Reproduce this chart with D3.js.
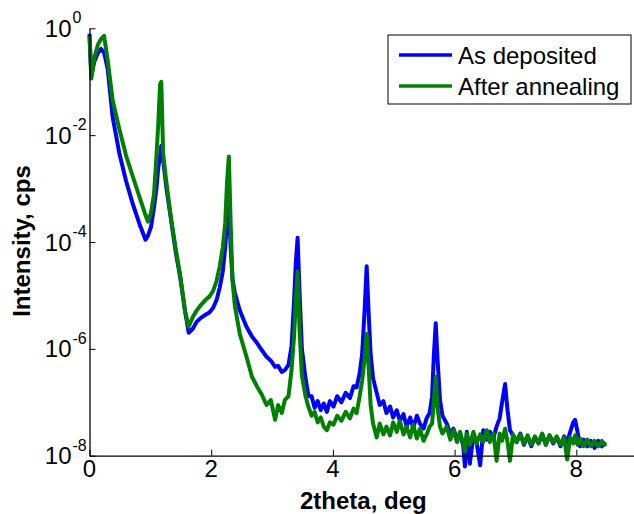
<!DOCTYPE html>
<html><head><meta charset="utf-8">
<script src="https://cdn.jsdelivr.net/npm/d3@7"></script>
<style>
html,body{margin:0;padding:0;background:#fff;}
svg{display:block;}
text{font-family:"Liberation Sans",Arial,sans-serif;fill:#000;}
</style></head>
<body><svg id="chart" width="634" height="514"></svg>
<script>
// ---- data ----
const twoTheta = [
  0, 0.03, 0.08, 0.14, 0.19, 0.24, 0.30, 0.38, 0.49, 0.60,
  0.71, 0.82, 0.92, 0.96, 1.01, 1.06, 1.10, 1.13, 1.16, 1.18,
  1.21, 1.26, 1.34, 1.42, 1.49, 1.57, 1.63, 1.70, 1.76, 1.83,
  1.90, 1.97, 2.03, 2.09, 2.14, 2.19, 2.23, 2.26, 2.29, 2.32,
  2.35, 2.39, 2.47, 2.58, 2.67, 2.75, 2.83, 2.91, 2.98, 3.05,
  3.10, 3.16, 3.21, 3.27, 3.32, 3.36, 3.39, 3.42, 3.45, 3.49,
  3.55, 3.60, 3.65, 3.70, 3.75, 3.80, 3.85, 3.90, 3.95, 4.01,
  4.07, 4.14, 4.21, 4.28, 4.34, 4.39, 4.44, 4.48, 4.52, 4.555,
  4.59, 4.62, 4.66, 4.72, 4.77, 4.83, 4.88, 4.94, 4.99, 5.05,
  5.10, 5.16, 5.21, 5.27, 5.32, 5.38, 5.43, 5.49, 5.54, 5.59,
  5.63, 5.66, 5.69, 5.72, 5.76, 5.80, 5.87, 5.93, 5.98, 6.04,
  6.09, 6.14, 6.17, 6.20, 6.25, 6.31, 6.36, 6.42, 6.47, 6.53,
  6.58, 6.64, 6.69, 6.74, 6.78, 6.83, 6.87, 6.91, 6.96, 7.02,
  7.08, 7.14, 7.20, 7.26, 7.32, 7.38, 7.44, 7.50, 7.56, 7.62,
  7.68, 7.74, 7.80, 7.85, 7.90, 7.95, 7.98, 8.02, 8.06, 8.12,
  8.18, 8.24, 8.30, 8.36, 8.42, 8.48
];
const asDeposited = [
  7.9e-1, 1.3e-1, 2.4e-1, 3.5e-1, 4.1e-1, 3.5e-1, 1.7e-1, 2.2e-2, 4.6e-3, 1.4e-3,
  5.2e-4, 2.2e-4, 1.1e-4, 1.3e-4, 1.9e-4, 4.5e-4, 1.0e-3, 2.5e-3, 4.0e-3, 6.3e-3,
  3.5e-3, 1.1e-3, 2.6e-4, 6.2e-5, 2.2e-5, 5.2e-6, 2.0e-6, 2.4e-6, 3.2e-6, 3.8e-6,
  4.3e-6, 4.8e-6, 5.8e-6, 8.3e-6, 1.4e-5, 2.8e-5, 7.9e-5, 2.5e-4, 5.0e-4, 7.9e-5,
  2.0e-5, 1.1e-5, 5.2e-6, 2.6e-6, 1.7e-6, 1.3e-6, 9.5e-7, 7.1e-7, 6.0e-7, 4.6e-7,
  4.8e-7, 3.7e-7, 4.0e-7, 5.0e-7, 1.1e-6, 7.1e-6, 4.0e-5, 1.2e-4, 1.3e-5, 1.0e-6,
  2.8e-7, 1.3e-7, 1.3e-7, 7.9e-8, 1.05e-7, 7.1e-8, 9.5e-8, 6.6e-8, 1.05e-7, 8.3e-8,
  1.3e-7, 1.0e-7, 1.5e-7, 1.2e-7, 2.0e-7, 1.9e-7, 3.5e-7, 7.9e-7, 5.0e-6, 3.5e-5,
  4.0e-6, 7.9e-7, 2.8e-7, 1.5e-7, 8.9e-8, 1.05e-7, 6.3e-8, 8.3e-8, 5.2e-8, 7.1e-8,
  4.5e-8, 6.0e-8, 3.5e-8, 5.2e-8, 3.3e-8, 5.6e-8, 4.0e-8, 3.2e-8, 5.0e-8, 6.3e-8,
  1.3e-7, 7.9e-7, 3.0e-6, 6.3e-7, 1.1e-7, 5.6e-8, 4.0e-8, 2.6e-8, 3.2e-8, 2.1e-8,
  2.4e-8, 1.6e-8, 6.3e-9, 2.8e-8, 7.1e-9, 2.5e-8, 1.8e-8, 6.6e-9, 3.0e-8, 2.0e-8,
  2.8e-8, 2.2e-8, 3.5e-8, 5.0e-8, 1.0e-7, 2.2e-7, 7.1e-8, 3.0e-8, 2.4e-8, 1.8e-8,
  2.6e-8, 1.6e-8, 2.3e-8, 1.5e-8, 2.2e-8, 1.7e-8, 2.5e-8, 1.6e-8, 2.4e-8, 1.7e-8,
  2.2e-8, 1.5e-8, 2.3e-8, 1.8e-8, 2.8e-8, 4.2e-8, 4.7e-8, 2.8e-8, 1.5e-8, 2.0e-8,
  1.5e-8, 1.9e-8, 1.4e-8, 1.9e-8, 1.5e-8, 1.8e-8
];
const afterAnnealing = [
  7.1e-1, 1.15e-1, 2.8e-1, 5.0e-1, 6.3e-1, 7.2e-1, 2.5e-1, 4.5e-2, 1.3e-2, 4.2e-3,
  1.7e-3, 7.1e-4, 3.2e-4, 2.4e-4, 3.5e-4, 7.9e-4, 4.0e-3, 1.6e-2, 8.9e-2, 1.0e-1,
  4.6e-3, 1.4e-3, 2.8e-4, 7.1e-5, 2.4e-5, 5.0e-6, 2.6e-6, 4.0e-6, 5.2e-6, 6.6e-6,
  8.1e-6, 9.5e-6, 1.2e-5, 1.9e-5, 3.5e-5, 7.9e-5, 2.2e-4, 1.3e-3, 4.0e-3, 2.2e-4,
  1.9e-5, 6.2e-6, 1.9e-6, 7.1e-7, 3.0e-7, 2.0e-7, 1.4e-7, 8.9e-8, 1.1e-7, 4.7e-8,
  8.9e-8, 6.3e-8, 1.1e-7, 1.3e-7, 4.0e-7, 1.6e-6, 7.9e-6, 2.8e-5, 2.5e-6, 3.2e-7,
  1.3e-7, 8.1e-8, 5.6e-8, 6.6e-8, 4.2e-8, 5.2e-8, 3.5e-8, 3.0e-8, 4.2e-8, 3.8e-8,
  5.6e-8, 4.5e-8, 6.6e-8, 5.0e-8, 7.6e-8, 6.3e-8, 1.3e-7, 2.5e-7, 6.3e-7, 1.9e-6,
  4.0e-7, 8.9e-8, 4.0e-8, 2.2e-8, 4.0e-8, 2.5e-8, 3.5e-8, 2.4e-8, 4.2e-8, 2.8e-8,
  4.5e-8, 2.5e-8, 3.5e-8, 2.2e-8, 3.8e-8, 2.1e-8, 3.2e-8, 1.9e-8, 2.5e-8, 3.5e-8,
  4.0e-8, 1.1e-7, 3.0e-7, 7.9e-8, 3.5e-8, 2.6e-8, 3.5e-8, 2.0e-8, 3.0e-8, 1.8e-8,
  2.8e-8, 1.7e-8, 1.2e-8, 2.6e-8, 1.6e-8, 2.8e-8, 1.7e-8, 2.5e-8, 1.8e-8, 3.0e-8,
  1.8e-8, 2.6e-8, 8.0e-9, 2.6e-8, 1.9e-8, 3.2e-8, 1.8e-8, 8.0e-9, 2.5e-8, 1.8e-8,
  2.5e-8, 1.7e-8, 2.4e-8, 1.6e-8, 2.3e-8, 1.7e-8, 2.6e-8, 1.6e-8, 2.4e-8, 1.8e-8,
  2.3e-8, 1.6e-8, 2.2e-8, 8.5e-9, 2.2e-8, 1.7e-8, 2.4e-8, 1.6e-8, 2.1e-8, 1.5e-8,
  2.0e-8, 1.5e-8, 1.9e-8, 1.5e-8, 1.9e-8, 1.5e-8
];
const seriesNames = ["As deposited", "After annealing"];
const seriesColors = ["#0000ff", "#008000"];
const xTickValues = [0, 2, 4, 6, 8];
const yTickValues = [1, 1e-2, 1e-4, 1e-6, 1e-8];
const yTickExponents = ["0", "-2", "-4", "-6", "-8"];
const xTitle = "2theta, deg";
const yTitle = "Intensity, cps";

// ---- layout ----
const svg = d3.select("#chart");
const plotLeft = 89.5, plotBottom = 455.7, plotTop = 28.3;
const x = d3.scaleLinear().domain([0, 9]).range([plotLeft, plotLeft + 9 * 60.85]);
const y = d3.scaleLog().domain([1e-8, 1]).range([plotBottom, plotTop]);

// curves
const seriesData = [asDeposited, afterAnnealing];
const line = d3.line().x(d => x(d[0])).y(d => y(d[1]));
seriesData.forEach((vals, i) => {
  const pts = twoTheta.map((t, j) => [t, vals[j]]);
  svg.append("path").datum(pts)
    .attr("fill", "none")
    .attr("stroke", seriesColors[i])
    .attr("stroke-width", 4)
    .attr("stroke-linejoin", "round")
    .attr("d", line);
});

// axes
const xAxis = d3.axisBottom(x).tickValues(xTickValues).tickSizeInner(-6).tickSizeOuter(0).tickFormat("");
const gx = svg.append("g").attr("transform", `translate(0,${plotBottom})`).call(xAxis);
const yAxis = d3.axisLeft(y).tickValues(yTickValues).tickSizeInner(-6).tickSizeOuter(0).tickFormat("");
const gy = svg.append("g").attr("transform", `translate(${plotLeft},0)`).call(yAxis);
[gx, gy].forEach(g => {
  g.select(".domain").attr("stroke", "#000").attr("stroke-width", 1.3);
  g.selectAll(".tick line").attr("stroke", "#000").attr("stroke-width", 1);
});

// x tick labels
svg.append("g").selectAll("text").data(xTickValues).join("text")
  .attr("x", d => x(d)).attr("y", plotBottom + 21)
  .attr("text-anchor", "middle").attr("font-size", 24)
  .text(d => d);

// y tick labels 10^k
const yl = svg.append("g");
yTickValues.forEach((v, i) => {
  yl.append("text").attr("x", 71.5).attr("y", y(v) + 8.6)
    .attr("text-anchor", "end").attr("font-size", 24).text("10");
  yl.append("text").attr("x", 72.5).attr("y", y(v) - 5)
    .attr("text-anchor", "start").attr("font-size", 16).text(yTickExponents[i]);
});

// axis titles
svg.append("text").attr("x", x(4.5)).attr("y", 509)
  .attr("text-anchor", "middle").attr("font-size", 24).attr("font-weight", "bold")
  .text(xTitle);
svg.append("text").attr("transform", "translate(30,241) rotate(-90)")
  .attr("text-anchor", "middle").attr("font-size", 24).attr("font-weight", "bold")
  .text(yTitle);

// legend
const lg = svg.append("g");
lg.append("rect").attr("x", 388).attr("y", 35).attr("width", 243).attr("height", 69)
  .attr("fill", "#fff").attr("stroke", "#000").attr("stroke-width", 1);
seriesNames.forEach((name, i) => {
  const ly = 55 + i * 31;
  lg.append("line").attr("x1", 399).attr("x2", 452).attr("y1", ly).attr("y2", ly)
    .attr("stroke", seriesColors[i]).attr("stroke-width", 3.5);
  lg.append("text").attr("x", 458).attr("y", ly + 8.6).attr("font-size", 24).text(name);
});
</script></body></html>
